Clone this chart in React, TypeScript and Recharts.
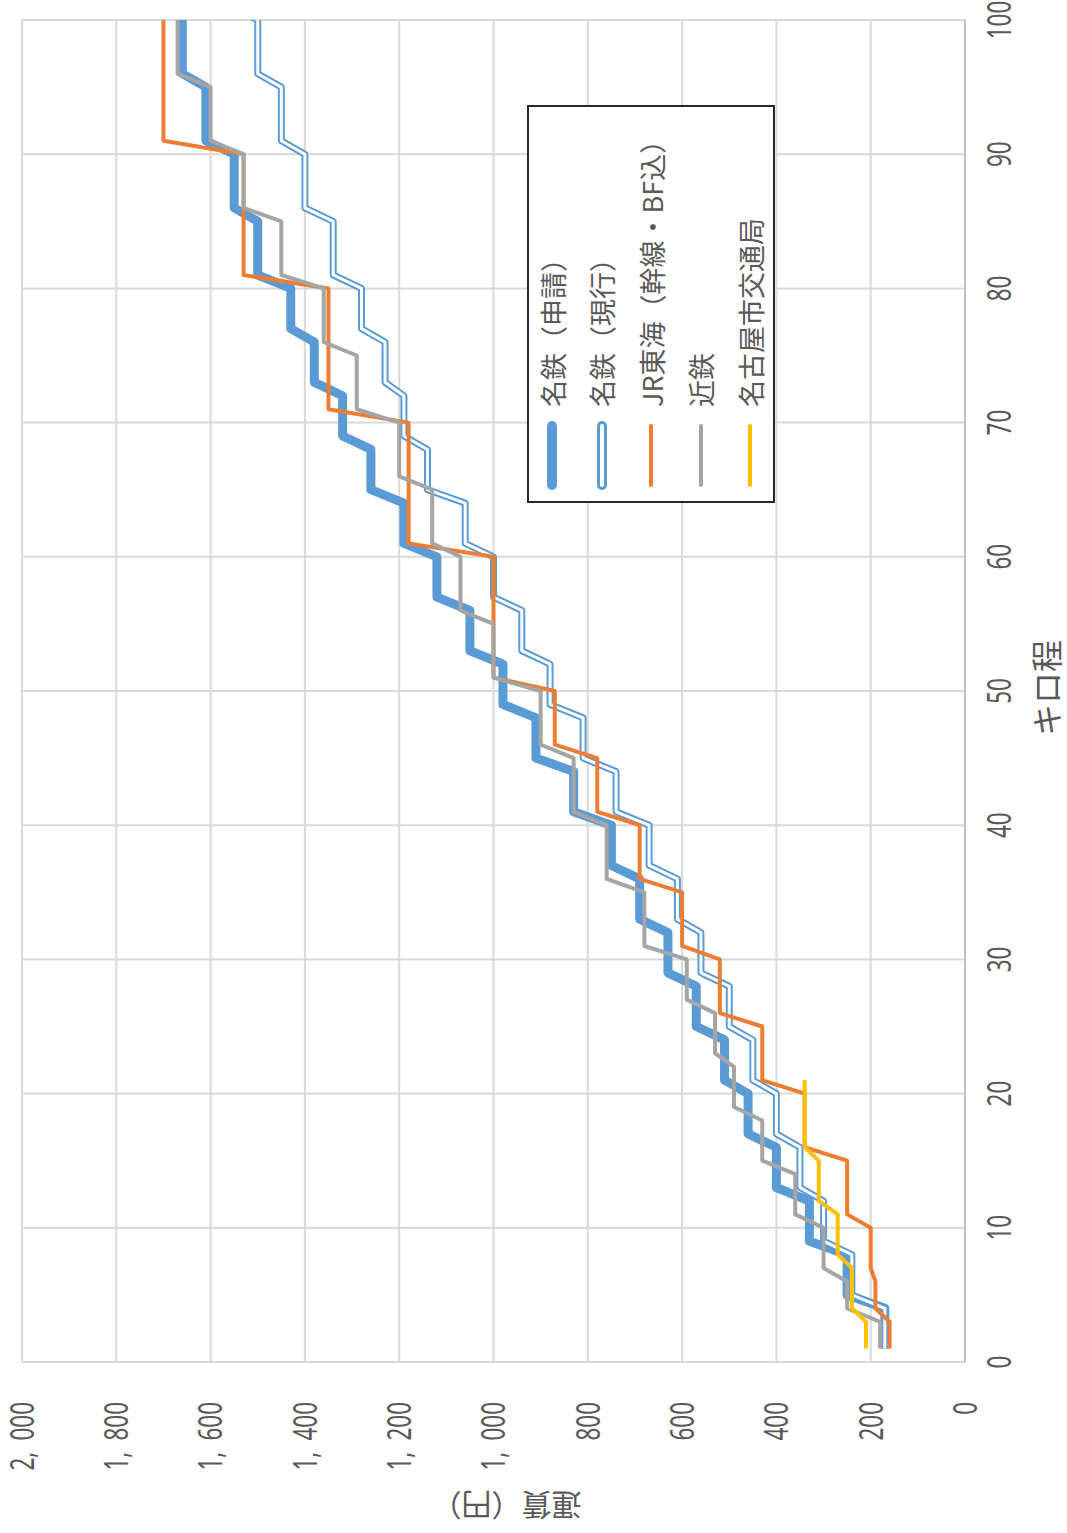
import { LineChart, Line, XAxis, YAxis, CartesianGrid, Legend } from "recharts";

// 図は元のグラフ(横軸キロ程・縦軸運賃)を反時計回りに90度回転したもの
const W = 1533;
const H = 1067;
const PLOT_LEFT = 171;
const PLOT_TOP = 22;
const PLOT_RIGHT = 1513;
const PLOT_BOTTOM = 965;

const kmTicks = [0, 10, 20, 30, 40, 50, 60, 70, 80, 90, 100];
const fareTicks = [0, 200, 400, 600, 800, 1000, 1200, 1400, 1600, 1800, 2000];

// 名鉄 (km帯の上限, 運賃)
const meitetsuBands = [4, 8, 12, 16, 20, 24, 28, 32, 36, 40, 44, 48, 52, 56, 60, 64, 68, 72, 76, 80, 85, 90, 95, 100, 105];
const meitetsuShinsei = [170, 250, 330, 400, 460, 510, 570, 630, 690, 750, 830, 910, 980, 1050, 1120, 1190, 1260, 1320, 1380, 1430, 1500, 1550, 1610, 1660];
const meitetsuGenko = [170, 240, 300, 350, 400, 450, 500, 560, 610, 670, 740, 810, 880, 940, 1000, 1060, 1140, 1190, 1230, 1280, 1340, 1400, 1450, 1500, 1560];

// JR東海 幹線 (BF込)
const jrBands = [3, 6, 10, 15, 20, 25, 30, 35, 40, 45, 50, 60, 70, 80, 90, 100];
const jrFares = [160, 190, 200, 250, 340, 430, 520, 600, 690, 780, 870, 1000, 1180, 1350, 1530, 1700];

// 近鉄
const kintetsuBands = [3, 6, 10, 14, 18, 22, 26, 30, 35, 40, 45, 50, 55, 60, 65, 70, 75, 80, 85, 90, 95, 100];
const kintetsuFares = [180, 250, 300, 360, 430, 490, 530, 590, 680, 760, 830, 900, 1000, 1070, 1130, 1200, 1290, 1360, 1450, 1530, 1600, 1670];

// 名古屋市交通局
const nagoyaBands = [3, 7, 11, 15, 21];
const nagoyaFares = [210, 240, 270, 310, 340];

const SERIES = [
  { key: "shinsei", name: "名鉄（申請）", color: "#5b9bd5", kind: "thick" },
  { key: "genko", name: "名鉄（現行）", color: "#5b9bd5", kind: "double" },
  { key: "jr", name: "JR東海（幹線・BF込）", color: "#ed7d31", kind: "thin" },
  { key: "kintetsu", name: "近鉄", color: "#a5a5a5", kind: "thin" },
  { key: "nagoya", name: "名古屋市交通局", color: "#ffc000", kind: "thin" },
];

function fareAt(km: number, bands: number[], fares: number[]) {
  const i = bands.findIndex((b) => km <= b);
  return i < 0 || i >= fares.length ? undefined : fares[i];
}

// 1kmごとの運賃表 (101kmは名鉄現行のみ、グラフ上端で切れる)
const kms = Array.from({ length: 101 }, (_, i) => i + 1);
const data = kms.map((km) => ({
  km,
  shinsei: km <= 100 ? fareAt(km, meitetsuBands, meitetsuShinsei) : undefined,
  genko: fareAt(km, meitetsuBands, meitetsuGenko),
  jr: km <= 100 ? fareAt(km, jrBands, jrFares) : undefined,
  kintetsu: km <= 100 ? fareAt(km, kintetsuBands, kintetsuFares) : undefined,
  nagoya: fareAt(km, nagoyaBands, nagoyaFares),
}));

const SQUEEZE = 0.68;
const tickText = {
  fontFamily: "'Noto Sans', sans-serif",
  fontSize: 33,
  fill: "#595959",
};

const jpFont = "'Noto Sans CJK JP', sans-serif";

function formatFare(v: number) {
  return v.toLocaleString("en-US").replace(",", ",\u2002");
}

function FareTick({ x, y, payload }: any) {
  return (
    <g transform={`translate(${x},${y}) scale(${SQUEEZE},1)`}>
      <text x={0} y={0} dy="0.36em" textAnchor="end" {...tickText}>
        {formatFare(payload.value)}
      </text>
    </g>
  );
}

function KmTick({ x, y, payload }: any) {
  return (
    <g transform={`translate(${x},${y}) scale(${SQUEEZE},1)`}>
      <text x={0} y={0} dy="0.72em" textAnchor="middle" {...tickText}>
        {payload.value}
      </text>
    </g>
  );
}

function FareTitle() {
  const cx = 26;
  const cy = (PLOT_TOP + PLOT_BOTTOM) / 2 + 13;
  return (
    <text
      x={cx}
      y={cy}
      transform={`rotate(-90, ${cx}, ${cy})`}
      textAnchor="middle"
      dominantBaseline="central"
      fontFamily={jpFont}
      fontSize={30}
      fill="#595959"
    >
      運賃（円）
    </text>
  );
}

function KmTitle() {
  return (
    <text
      x={(PLOT_LEFT + PLOT_RIGHT) / 2 + 3}
      y={1045}
      textAnchor="middle"
      dominantBaseline="central"
      fontFamily={jpFont}
      fontSize={32}
      fill="#595959"
    >
      キロ程
    </text>
  );
}

function LegendSample({ color, kind }: { color: string; kind: string }) {
  const w = kind === "thin" ? 4 : 10;
  return (
    <svg width={80} height={14} style={{ display: "block" }}>
      <line x1={16} y1={7} x2={75} y2={7} stroke={color} strokeWidth={w} strokeLinecap="round" />
      {kind === "double" && (
        <line x1={16} y1={7} x2={75} y2={7} stroke="#fff" strokeWidth={4} strokeLinecap="round" />
      )}
    </svg>
  );
}

function renderLegend() {
  return (
    <div
      style={{
        boxSizing: "border-box",
        width: 398,
        height: 248,
        border: "2px solid #262626",
        background: "#fff",
        position: "relative",
      }}
    >
      {SERIES.map((s, i) => (
        <div
          key={s.key}
          style={{
            position: "absolute",
            left: 0,
            top: 23 + i * 49.5 - 20,
            height: 40,
            display: "flex",
            alignItems: "center",
            whiteSpace: "nowrap",
          }}
        >
          <LegendSample color={s.color} kind={s.kind} />
          <span
            style={{
              marginLeft: 14,
              fontFamily: jpFont,
              fontSize: 27,
              color: "#595959",
              lineHeight: 1,
            }}
          >
            {s.name}
          </span>
        </div>
      ))}
    </div>
  );
}

export default function App() {
  return (
    <div
      style={{
        position: "absolute",
        left: 0,
        top: 0,
        width: H,
        height: W,
        overflow: "hidden",
        background: "#fff",
      }}
    >
      <div
        style={{
          width: W,
          height: H,
          transformOrigin: "0 0",
          transform: `translate(0px, ${W}px) rotate(-90deg)`,
        }}
      >
        <LineChart
          width={W}
          height={H}
          data={data}
          margin={{ top: PLOT_TOP, right: W - PLOT_RIGHT, bottom: 0, left: 0 }}
        >
          <CartesianGrid stroke="#d9d9d9" strokeWidth={2} />
          <XAxis
            type="number"
            dataKey="km"
            domain={[0, 100]}
            allowDataOverflow
            ticks={kmTicks}
            height={H - PLOT_BOTTOM}
            tickLine={false}
            tickSize={0}
            tickMargin={22}
            axisLine={{ stroke: "#bfbfbf", strokeWidth: 2 }}
            tick={<KmTick />}
            label={() => <KmTitle />}
          />
          <YAxis
            type="number"
            domain={[0, 2000]}
            ticks={fareTicks}
            width={PLOT_LEFT}
            tickLine={false}
            tickSize={0}
            tickMargin={40}
            axisLine={false}
            tick={<FareTick />}
            label={() => <FareTitle />}
          />
          <Line
            type="linear"
            dataKey="shinsei"
            name="名鉄（申請）"
            stroke="#5b9bd5"
            strokeWidth={9}
            strokeLinejoin="round"
            dot={false}
            isAnimationActive={false}
          />
          <Line
            type="linear"
            dataKey="genko"
            name="名鉄（現行）"
            stroke="#5b9bd5"
            strokeWidth={7}
            strokeLinejoin="round"
            dot={false}
            isAnimationActive={false}
          />
          <Line
            type="linear"
            dataKey="genko"
            name="名鉄（現行）内側"
            stroke="#ffffff"
            strokeWidth={3}
            strokeLinejoin="round"
            dot={false}
            legendType="none"
            isAnimationActive={false}
          />
          <Line
            type="linear"
            dataKey="jr"
            name="JR東海（幹線・BF込）"
            stroke="#ed7d31"
            strokeWidth={4}
            strokeLinejoin="round"
            dot={false}
            isAnimationActive={false}
          />
          <Line
            type="linear"
            dataKey="kintetsu"
            name="近鉄"
            stroke="#a5a5a5"
            strokeWidth={4}
            strokeLinejoin="round"
            dot={false}
            isAnimationActive={false}
          />
          <Line
            type="linear"
            dataKey="nagoya"
            name="名古屋市交通局"
            stroke="#ffc000"
            strokeWidth={4}
            strokeLinejoin="round"
            dot={false}
            isAnimationActive={false}
          />
          <Legend
            layout="vertical"
            align="center"
            verticalAlign="middle"
            content={renderLegend}
            wrapperStyle={{ left: 1030, top: 527, width: 398, height: 248 }}
          />
        </LineChart>
      </div>
    </div>
  );
}
